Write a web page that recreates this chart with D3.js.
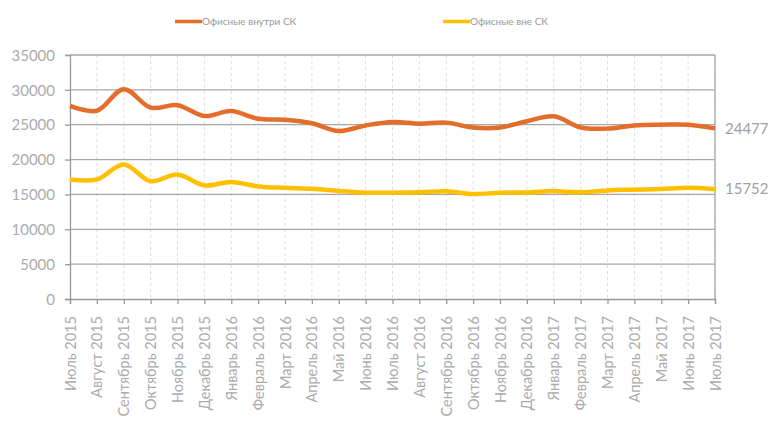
<!DOCTYPE html>
<html><head><meta charset="utf-8">
<script src="https://cdn.jsdelivr.net/npm/d3@7/dist/d3.min.js"></script>
<style>
body{margin:0;background:#fff;}
text{font-family:Lato, "Open Sans", sans-serif;}
</style></head>
<body><svg id="c" width="773" height="421"></svg>
<script>
const categories = ["Июль 2015","Август 2015","Сентябрь 2015","Октябрь 2015","Ноябрь 2015","Декабрь 2015","Январь 2016","Февраль 2016","Март 2016","Апрель 2016","Май 2016","Июнь 2016","Июль 2016","Август 2016","Сентябрь 2016","Октябрь 2016","Ноябрь 2016","Декабрь 2016","Январь 2017","Февраль 2017","Март 2017","Апрель 2017","Май 2017","Июнь 2017","Июль 2017"];
const seriesNames = ["Офисные внутри СК","Офисные вне СК"];
const inside = [27700,27000,30100,27450,27800,26250,26950,25850,25700,25200,24100,24900,25400,25150,25300,24600,24600,25500,26200,24600,24450,24900,25000,25000,24477];
const outside = [17150,17150,19300,16900,17850,16300,16800,16150,15950,15820,15500,15250,15250,15300,15450,15050,15250,15280,15480,15300,15580,15680,15770,15950,15752];
const yTicks = [0,5000,10000,15000,20000,25000,30000,35000];
const colors = ["#E56D2B","#FFC000"];

const svg = d3.select("#c");
const L=70, R=715, T=55, B=299;
const x = d3.scalePoint().domain(categories).range([L,R]);
const y = d3.scaleLinear().domain([0,35000]).range([B,T]);

// vertical dashed gridlines
svg.append("g").selectAll("line").data(categories.slice(1)).join("line")
  .attr("x1",d=>x(d)).attr("x2",d=>x(d)).attr("y1",T).attr("y2",B)
  .attr("stroke","#dcdcdc").attr("stroke-width",1).attr("stroke-dasharray","3,3");
// horizontal gridlines
svg.append("g").selectAll("line").data(yTicks.slice(1)).join("line")
  .attr("x1",L).attr("x2",R).attr("y1",d=>y(d)).attr("y2",d=>y(d))
  .attr("stroke","#a6a6a6").attr("stroke-width",1.3);
// right border
svg.append("line").attr("x1",R).attr("x2",R).attr("y1",T).attr("y2",B)
  .attr("stroke","#b0b0b0").attr("stroke-width",1.5);

// axes
const yAxis = svg.append("g").attr("transform",`translate(${L},0)`)
  .call(d3.axisLeft(y).tickValues(yTicks).tickSize(5).tickPadding(10).tickFormat(d3.format("d")));
const xAxis = svg.append("g").attr("transform",`translate(0,${B})`)
  .call(d3.axisBottom(x).tickSize(5).tickPadding(0));
[yAxis,xAxis].forEach(a=>{
  a.select(".domain").attr("stroke","#999").attr("stroke-width",1.3);
  a.selectAll(".tick line").attr("stroke","#999").attr("stroke-width",1.3);
  a.selectAll("text").attr("fill","#ababab").style("font-size","15px");
});
yAxis.selectAll("text").attr("dy","0.35em");
xAxis.selectAll("text").style("font-size","14.5px")
  .attr("text-anchor","end").attr("dy","0.35em")
  .attr("transform","translate(0,17) rotate(-90)").attr("x",0).attr("y",0);

// lines
const line = d3.line().x((d,i)=>x(categories[i])).y(d=>y(d)).curve(d3.curveCatmullRom.alpha(0.5));
[inside,outside].forEach((s,k)=>{
  svg.append("path").attr("d",line(s)).attr("fill","none")
    .attr("stroke",colors[k]).attr("stroke-width",4.5).attr("stroke-linejoin","round");
  svg.append("text").attr("x",R+10).attr("y",y(s[s.length-1])).attr("dy","0.35em")
    .attr("fill","#a0a0a0").style("font-size","15px").text(s[s.length-1]);
});

// legend
const leg = [{x:175,name:seriesNames[0],c:colors[0]},{x:443,name:seriesNames[1],c:colors[1]}];
leg.forEach(l=>{
  svg.append("line").attr("x1",l.x).attr("x2",l.x+27).attr("y1",21.5).attr("y2",21.5)
    .attr("stroke",l.c).attr("stroke-width",3.5);
  svg.append("text").attr("x",l.x+27).attr("y",21.5).attr("dy","0.35em")
    .attr("fill","#999").style("font-size","10px").text(l.name);
});
</script></body></html>
